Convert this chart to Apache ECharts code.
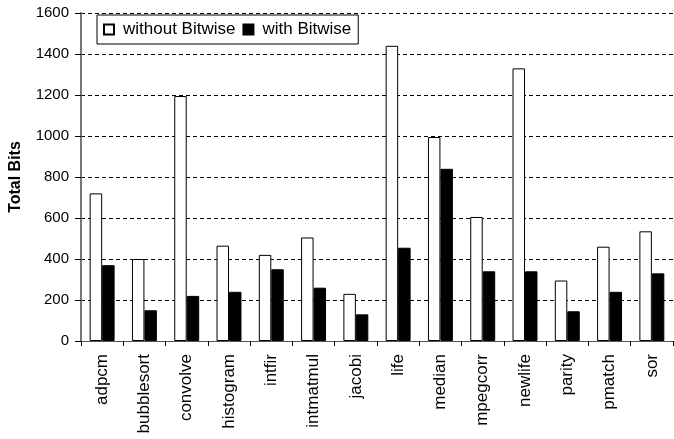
<!DOCTYPE html>
<html><head><meta charset="utf-8">
<script src="https://cdn.jsdelivr.net/npm/echarts@6/dist/echarts.min.js"></script>
<style>html,body{margin:0;padding:0;background:#fff}#c{width:674px;height:439px}</style>
</head><body><div id="c"></div>
<script>
const categories = ['adpcm','bubblesort','convolve','histogram','intfir','intmatmul','jacobi','life','median','mpegcorr','newlife','parity','pmatch','sor'];
const withoutBitwise = [720,400,1195,465,420,505,230,1440,995,605,1330,295,460,535];
const withBitwise = [370,150,220,240,350,260,130,455,840,340,340,145,240,330];
const yTicks = {min:0, max:1600, interval:200};
const font = 'Liberation Sans, Arial, sans-serif';
const chart = echarts.init(document.getElementById('c'), null, {renderer:'canvas'});
chart.setOption({
  animation:false,
  textStyle:{fontFamily:font},
  grid:{left:80, right:1, top:13, bottom:98, containLabel:false},
  legend:{
    left:97, top:15, itemGap:7, itemWidth:10, itemHeight:10, icon:'rect',
    padding:[6,7,6,6],
    borderColor:'#000', borderWidth:1, backgroundColor:'#fff',
    textStyle:{fontFamily:font, fontSize:17, color:'#000', padding:[0,0,0,4]},
    data:['without Bitwise','with Bitwise']
  },
  xAxis:{
    type:'category', data:categories,
    axisLine:{lineStyle:{color:'#555', width:1}},
    axisTick:{show:true, length:5, lineStyle:{color:'#000'}},
    axisLabel:{rotate:90, fontSize:17, color:'#000', fontFamily:font, margin:13, interval:0}
  },
  yAxis:{
    type:'value', min:yTicks.min, max:yTicks.max, interval:yTicks.interval,
    name:'Total Bits', nameLocation:'middle', nameGap:57,
    nameTextStyle:{fontFamily:font, fontSize:16, fontWeight:'bold', color:'#000'},
    axisLine:{show:true, lineStyle:{color:'#777', width:2}},
    axisTick:{show:true, length:6, lineStyle:{color:'#000'}},
    axisLabel:{fontSize:15, color:'#000', fontFamily:font, margin:12, formatter:v=>String(v)},
    splitLine:{show:true, lineStyle:{color:'#000', type:[4,3], width:1}}
  },
  series:[
    {name:'without Bitwise', type:'bar', data:withoutBitwise, barGap:'0%', barCategoryGap:'41%',
     itemStyle:{color:'#fff', borderColor:'#000', borderWidth:1}},
    {name:'with Bitwise', type:'bar', data:withBitwise,
     itemStyle:{color:'#000', borderColor:'#000', borderWidth:1}}
  ]
});
</script></body></html>
